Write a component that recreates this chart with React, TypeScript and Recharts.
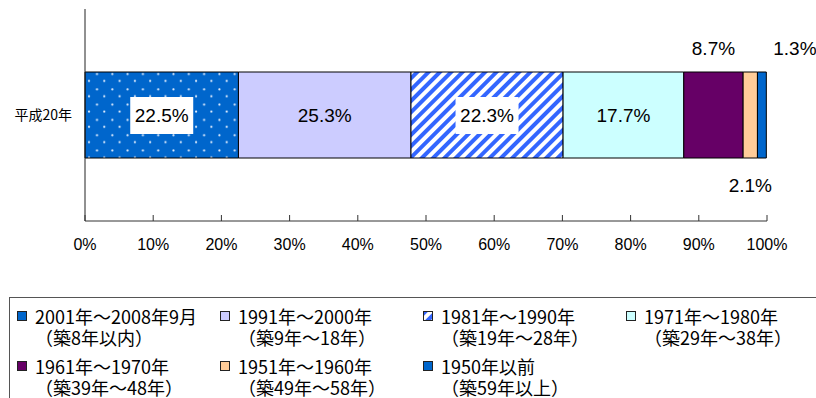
import { Bar, BarChart, LabelList, XAxis, YAxis } from "recharts";

// building age breakdown, percent of stock
const categories = ["平成20年"];
const periods = [
  "2001年～2008年9月",
  "1991年～2000年",
  "1981年～1990年",
  "1971年～1980年",
  "1961年～1970年",
  "1951年～1960年",
  "1950年以前",
];
const ages = [
  "（築8年以内）",
  "（築9年～18年）",
  "（築19年～28年）",
  "（築29年～38年）",
  "（築39年～48年）",
  "（築49年～58年）",
  "（築59年以上）",
];
const shares = [22.5, 25.3, 22.3, 17.7, 8.7, 2.1, 1.3];
const xTicks = [0, 10, 20, 30, 40, 50, 60, 70, 80, 90, 100];

const fills = [
  "url(#dots)",
  "#CCCCFF",
  "url(#stripes)",
  "#CCFFFF",
  "#660066",
  "#FFCC99",
  "#0066CC",
];
// where each segment's value label goes
const labelModes = ["boxed", "plain", "boxed", "plain", "above", "below", "aboveRight"];

const keys = shares.map((_, i) => `s${i}`);
const data = categories.map((name) => {
  const row: Record<string, string | number> = { name };
  keys.forEach((k, i) => (row[k] = shares[i]));
  return row;
});

const numFont = "'Liberation Sans', Arial, sans-serif";
const jpFont = "'Noto Sans CJK JP', sans-serif";

const Patterns = () => (
  <svg width={0} height={0} style={{ position: "absolute" }}>
    <defs>
      <pattern id="dots" patternUnits="userSpaceOnUse" width={15.3} height={15.3}>
        <rect width={15.3} height={15.3} fill="#0066CC" />
        <circle cx={5.2} cy={12.8} r={1.1} fill="#e6f0ff" />
        <circle cx={12.5} cy={4.5} r={1.1} fill="#e6f0ff" />
      </pattern>
      <pattern
        id="stripes"
        patternUnits="userSpaceOnUse"
        width={8}
        height={8}
        patternTransform="rotate(45)"
      >
        <rect width={8} height={8} fill="#ffffff" />
        <rect width={4} height={8} fill="#3366FF" />
      </pattern>
    </defs>
  </svg>
);

const AxisTick = ({ x, y, payload }: any) => (
  <g>
    <line x1={x} x2={x} y1={y - 6} y2={y} stroke="#333" />
    <text
      x={x}
      y={y + 29}
      textAnchor="middle"
      fontSize={16}
      fontFamily={numFont}
      fill="#000"
    >
      {payload.value}%
    </text>
  </g>
);

const makeLabel = (mode: string) => (props: any) => {
  const x = Number(props.x);
  const y = Number(props.y);
  const w = Number(props.width);
  const h = Number(props.height);
  const text = `${props.value}%`;
  let cx = x + w / 2;
  let cy = y + h / 2;
  if (mode === "above") cy = y - 24;
  if (mode === "aboveRight") {
    cx += 33;
    cy = y - 24;
  }
  if (mode === "below") cy = y + h + 27;
  return (
    <g>
      {mode === "boxed" && (
        <rect x={cx - 31.5} y={cy - 18} width={63} height={37} fill="#fff" />
      )}
      <text
        x={cx}
        y={cy}
        dy="0.36em"
        textAnchor="middle"
        fontSize={19}
        fontFamily={numFont}
        fill="#000"
      >
        {text}
      </text>
    </g>
  );
};

const LegendBox = () => (
  <div
    style={{
      position: "absolute",
      left: 9,
      top: 297,
      width: 840,
      height: 140,
      border: "1px solid #555",
      fontFamily: jpFont,
      fontSize: 18,
      lineHeight: "21px",
      color: "#000",
    }}
  >
    {periods.map((p, i) => {
      const col = i % 4;
      const row = Math.floor(i / 4);
      return (
        <div
          key={p}
          style={{
            position: "absolute",
            left: 7 + col * 203,
            top: 8 + row * 50,
            whiteSpace: "nowrap",
          }}
        >
          <svg
            width={10}
            height={10}
            style={{ position: "absolute", left: 0, top: 5 }}
          >
            <rect x={0.5} y={0.5} width={9} height={9} fill={fills[i]} stroke="#222" />
          </svg>
          <div style={{ marginLeft: 18 }}>{p}</div>
          <div style={{ marginLeft: 18 }}>{ages[i]}</div>
        </div>
      );
    })}
  </div>
);

const App = () => {
  return (
    <div
      style={{
        position: "absolute",
        left: 0,
        top: 0,
        width: 816,
        height: 398,
        overflow: "hidden",
        background: "#fff",
      }}
    >
      <Patterns />
      <BarChart
        width={816}
        height={260}
        data={data}
        layout="vertical"
        margin={{ top: 9, right: 49, left: 0, bottom: 0 }}
      >
        <XAxis
          type="number"
          domain={[0, 100]}
          ticks={xTicks}
          interval={0}
          height={39}
          tickSize={0}
          tickMargin={0}
          tickLine={false}
          axisLine={{ stroke: "#333" }}
          tick={<AxisTick />}
        />
        <YAxis
          type="category"
          dataKey="name"
          width={85}
          tickLine={false}
          tickSize={0}
          tickMargin={13}
          axisLine={{ stroke: "#222" }}
          tick={{ fontSize: 14, fontFamily: jpFont, fill: "#000" }}
        />
        {keys.map((k, i) => (
          <Bar
            key={k}
            dataKey={k}
            stackId="a"
            barSize={86}
            fill={fills[i]}
            stroke="#000"
            strokeWidth={1}
            isAnimationActive={false}
          >
            <LabelList dataKey={k} content={makeLabel(labelModes[i])} />
          </Bar>
        ))}
      </BarChart>
      <LegendBox />
    </div>
  );
};

export default App;
